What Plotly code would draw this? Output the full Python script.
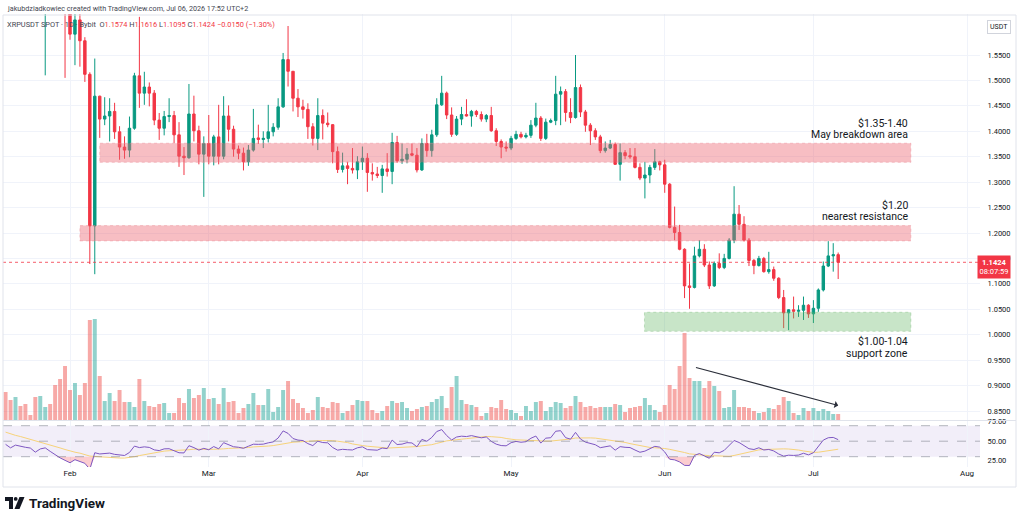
import numpy as np
import pandas as pd
import plotly.graph_objects as go

# ---------------- DATA (daily XRPUSDT, Bybit) ----------------
start_date = "2026-01-19"

# closes before the visible window (Dec 22 - Jan 18), only used to warm up the RSI
warmup_close = [1.88, 1.86, 1.90, 1.87, 1.85, 1.89, 1.92, 1.90, 1.88, 1.91, 1.95, 1.99, 2.04, 2.02,
                2.08, 2.13, 2.10, 2.06, 2.09, 2.12, 2.07, 2.10, 2.14, 2.11, 2.06, 2.08, 2.04, 2.02]

open_prices = [
    2.02, 1.97, 1.92, 1.95, 1.93, 1.92, 1.91, 1.85, 1.88, 1.89, 1.84, 1.78, 1.72,  # Jan 19-31
    1.660, 1.591, 1.619, 1.578, 1.512, 1.214, 1.469, 1.424, 1.430, 1.439, 1.399, 1.369, 1.363, 1.406,
    1.509, 1.475, 1.487, 1.475, 1.422, 1.406, 1.429, 1.431, 1.393, 1.351, 1.348, 1.434, 1.401, 1.355,  # Feb
    1.376, 1.351, 1.389, 1.351, 1.430, 1.404, 1.365, 1.357, 1.340, 1.363, 1.387, 1.384, 1.386, 1.399,
    1.408, 1.448, 1.541, 1.518, 1.465, 1.448, 1.443, 1.409, 1.386, 1.431, 1.416, 1.413, 1.360, 1.325,
    1.332, 1.327, 1.324,  # Mar
    1.340, 1.347, 1.319, 1.316, 1.313, 1.326, 1.321, 1.378, 1.342, 1.345, 1.356, 1.353, 1.324, 1.376,
    1.362, 1.393, 1.452, 1.475, 1.432, 1.394, 1.424, 1.433, 1.430, 1.439, 1.433, 1.424, 1.431, 1.401,
    1.380, 1.369,  # Apr
    1.367, 1.386, 1.394, 1.389, 1.392, 1.412, 1.426, 1.386, 1.418, 1.421, 1.473, 1.478, 1.437, 1.427,
    1.486, 1.438, 1.412, 1.401, 1.389, 1.362, 1.367, 1.374, 1.335, 1.358, 1.352, 1.350, 1.329, 1.308,
    1.314, 1.329, 1.340,  # May
    1.334, 1.296, 1.211, 1.201, 1.168, 1.096, 1.093, 1.155, 1.168, 1.137, 1.096, 1.140, 1.132, 1.150,
    1.186, 1.237, 1.217, 1.186, 1.146, 1.136, 1.150, 1.124, 1.128, 1.111, 1.073, 1.043, 1.049, 1.046,
    1.048, 1.058,  # Jun
    1.041, 1.052, 1.088, 1.135, 1.155, 1.1574,  # Jul 1-6
]
high_prices = [
    2.05, 1.99, 1.97, 1.97, 1.95, 1.93, 1.92, 1.90, 1.90, 1.90, 1.85, 1.80, 1.74,
    1.670, 1.640, 1.645, 1.585, 1.516, 1.543, 1.470, 1.467, 1.465, 1.456, 1.410, 1.390, 1.429, 1.515,
    1.625, 1.517, 1.496, 1.481, 1.436, 1.440, 1.465, 1.440, 1.418, 1.369, 1.493, 1.470, 1.411, 1.390,
    1.432, 1.393, 1.452, 1.469, 1.451, 1.411, 1.372, 1.368, 1.373, 1.444, 1.413, 1.400, 1.452, 1.416,
    1.465, 1.554, 1.607, 1.518, 1.483, 1.462, 1.455, 1.416, 1.465, 1.443, 1.437, 1.414, 1.370, 1.358,
    1.340, 1.367, 1.351,
    1.370, 1.357, 1.337, 1.330, 1.334, 1.357, 1.397, 1.391, 1.376, 1.367, 1.376, 1.367, 1.386, 1.395,
    1.403, 1.465, 1.509, 1.478, 1.447, 1.430, 1.448, 1.463, 1.442, 1.442, 1.439, 1.434, 1.448, 1.406,
    1.384, 1.380,
    1.391, 1.401, 1.399, 1.397, 1.422, 1.456, 1.430, 1.425, 1.425, 1.509, 1.488, 1.483, 1.465, 1.550,
    1.492, 1.442, 1.416, 1.406, 1.393, 1.380, 1.383, 1.378, 1.376, 1.363, 1.367, 1.367, 1.337, 1.340,
    1.334, 1.365, 1.342,
    1.344, 1.298, 1.252, 1.216, 1.170, 1.140, 1.173, 1.186, 1.178, 1.144, 1.144, 1.160, 1.159, 1.190,
    1.292, 1.255, 1.233, 1.190, 1.149, 1.155, 1.153, 1.163, 1.134, 1.113, 1.088, 1.050, 1.075, 1.058,
    1.075, 1.060,
    1.068, 1.091, 1.144, 1.184, 1.180, 1.1616,
]
low_prices = [
    1.96, 1.90, 1.90, 1.91, 1.90, 1.89, 1.83, 1.84, 1.51, 1.82, 1.76, 1.70, 1.505,
    1.580, 1.530, 1.527, 1.497, 1.139, 1.119, 1.387, 1.412, 1.380, 1.385, 1.344, 1.346, 1.349, 1.403,
    1.446, 1.452, 1.449, 1.412, 1.383, 1.392, 1.418, 1.377, 1.330, 1.314, 1.346, 1.380, 1.335, 1.271,
    1.335, 1.333, 1.335, 1.345, 1.380, 1.350, 1.345, 1.323, 1.332, 1.360, 1.375, 1.367, 1.378, 1.390,
    1.403, 1.446, 1.488, 1.439, 1.428, 1.425, 1.385, 1.372, 1.363, 1.384, 1.408, 1.337, 1.318, 1.319,
    1.296, 1.317, 1.306,
    1.324, 1.281, 1.303, 1.308, 1.279, 1.311, 1.296, 1.338, 1.336, 1.337, 1.351, 1.319, 1.322, 1.350,
    1.350, 1.389, 1.450, 1.424, 1.389, 1.391, 1.412, 1.429, 1.409, 1.428, 1.419, 1.418, 1.399, 1.371,
    1.347, 1.360,
    1.363, 1.383, 1.386, 1.386, 1.387, 1.408, 1.381, 1.383, 1.416, 1.412, 1.412, 1.419, 1.416, 1.425,
    1.428, 1.399, 1.373, 1.383, 1.357, 1.358, 1.365, 1.334, 1.303, 1.345, 1.346, 1.327, 1.304, 1.268,
    1.298, 1.324, 1.323,
    1.279, 1.209, 1.186, 1.166, 1.072, 1.051, 1.091, 1.152, 1.133, 1.090, 1.094, 1.129, 1.129, 1.148,
    1.180, 1.206, 1.183, 1.135, 1.119, 1.134, 1.122, 1.120, 1.106, 1.070, 1.013, 1.009, 1.032, 1.035,
    1.029, 1.033,
    1.023, 1.045, 1.085, 1.133, 1.124, 1.1095,
]
close_prices = [
    1.97, 1.92, 1.95, 1.93, 1.92, 1.91, 1.85, 1.88, 1.89, 1.84, 1.78, 1.72, 1.66,
    1.591, 1.619, 1.578, 1.512, 1.214, 1.469, 1.424, 1.430, 1.439, 1.399, 1.369, 1.363, 1.406, 1.509,
    1.475, 1.487, 1.475, 1.422, 1.406, 1.429, 1.431, 1.393, 1.351, 1.348, 1.434, 1.401, 1.355, 1.376,
    1.351, 1.389, 1.351, 1.430, 1.404, 1.365, 1.357, 1.340, 1.363, 1.386, 1.384, 1.386, 1.399, 1.408,
    1.448, 1.541, 1.518, 1.465, 1.448, 1.443, 1.409, 1.386, 1.431, 1.416, 1.413, 1.360, 1.325, 1.332,
    1.327, 1.324, 1.340,
    1.347, 1.319, 1.316, 1.313, 1.326, 1.321, 1.378, 1.342, 1.345, 1.355, 1.353, 1.324, 1.376, 1.362,
    1.393, 1.452, 1.475, 1.432, 1.394, 1.424, 1.433, 1.430, 1.439, 1.433, 1.424, 1.431, 1.401, 1.380,
    1.369, 1.367,
    1.386, 1.394, 1.389, 1.392, 1.412, 1.426, 1.386, 1.418, 1.421, 1.473, 1.478, 1.437, 1.427, 1.486,
    1.438, 1.412, 1.401, 1.389, 1.362, 1.367, 1.374, 1.335, 1.358, 1.352, 1.350, 1.329, 1.308, 1.314,
    1.329, 1.340, 1.334,
    1.296, 1.211, 1.201, 1.168, 1.096, 1.093, 1.155, 1.168, 1.137, 1.096, 1.140, 1.132, 1.150, 1.186,
    1.237, 1.217, 1.186, 1.146, 1.136, 1.150, 1.124, 1.128, 1.111, 1.073, 1.043, 1.049, 1.046, 1.048,
    1.058, 1.041,
    1.052, 1.088, 1.135, 1.155, 1.1574, 1.1424,
]
# volume (tens of millions XRP)
volume = [
    28, 20, 23, 14, 16, 5, 23, 24, 13, 16, 35, 41, 54,
    30, 37, 25, 37, 100, 101, 44, 19, 27, 19, 30, 18, 18, 13, 41, 19, 14, 13, 16, 17, 7, 7, 22, 17, 31, 22, 25, 32,
    21, 22, 16, 32, 18, 19, 7, 12, 16, 27, 15, 15, 31, 8, 13, 30, 39, 21, 17, 12, 7, 10, 23, 13, 12, 18, 17, 7, 9, 15, 20,
    19, 19, 10, 7, 9, 14, 19, 17, 18, 12, 9, 11, 13, 14, 18, 21, 24, 12, 33, 44, 20, 16, 15, 13, 4, 7, 13, 12, 20, 11,
    10, 7, 4, 14, 9, 18, 19, 9, 13, 18, 17, 12, 14, 24, 18, 13, 14, 12, 13, 13, 13, 16, 15, 8, 12, 13, 14, 22, 15, 10, 8,
    15, 35, 31, 54, 87, 42, 39, 39, 32, 39, 34, 29, 12, 13, 30, 13, 13, 12, 9, 7, 8, 12, 11, 15, 23, 19, 7, 5, 12, 9,
    12, 9, 11, 9, 6, 6,
]

month_ticks = ["2026-02-01", "2026-03-01", "2026-04-01", "2026-05-01", "2026-06-01", "2026-07-01", "2026-08-01"]
price_ticks = [0.85, 0.90, 0.95, 1.00, 1.05, 1.10, 1.15, 1.20, 1.25, 1.30, 1.35, 1.40, 1.45, 1.50, 1.55]
rsi_ticks = [25, 50, 75]
last_price = 1.1424

# drawn zones: (start, end, low, high, colour)
zones = [
    ("2026-02-07", "2026-07-20 16:00", 1.339, 1.3765, "red"),
    ("2026-02-03", "2026-07-20 16:00", 1.1845, 1.2145, "red"),
    ("2026-05-27 22:00", "2026-07-20 16:00", 1.0067, 1.0441, "green"),
]

# ---------------- DERIVED ----------------
n = len(close_prices)
assert all(len(a) == n for a in (open_prices, high_prices, low_prices, volume)), n
dates = pd.date_range(start_date, periods=n, freq="D")
o = np.array(open_prices); c = np.array(close_prices)
up = c >= o

# RSI 14 (Wilder) + 14 SMA, as TradingView does
all_close = np.array(warmup_close + close_prices)
d = np.diff(all_close)
g = np.clip(d, 0, None); l = np.clip(-d, 0, None)
L = 14
ag = np.full(len(d), np.nan); al = np.full(len(d), np.nan)
ag[L - 1] = g[:L].mean(); al[L - 1] = l[:L].mean()
for i in range(L, len(d)):
    ag[i] = (ag[i - 1] * (L - 1) + g[i]) / L
    al[i] = (al[i - 1] * (L - 1) + l[i]) / L
rsi_all = np.concatenate([[np.nan], 100 - 100 / (1 + ag / al)])
rsi_ma_all = pd.Series(rsi_all).rolling(L).mean().values
rsi = rsi_all[-n:]
rsi_ma = rsi_ma_all[-n:]

# ---------------- GEOMETRY ----------------
PL, PR, PT, PB = 3, 980, 14, 467
W, H = PR - PL, PB - PT
def px(x):
    return (x - PL) / W
def py(y):
    return (PB - y) / H

split = py(420)
px_per_day = 4.956
feb1 = pd.Timestamp("2026-02-01")
x0 = feb1 - pd.Timedelta(days=(70 - PL) / px_per_day)
x1 = feb1 + pd.Timedelta(days=(PR - 70) / px_per_day)
y_top = 1.55 + (55 - PT) / 508.6
y_bot = 0.85 - (420 - 411) / 508.6
rsi_top = 70 + (425.7 - 420) / 0.775
rsi_bot = 30 - (PB - 456.7) / 0.775

UP, DN = "#089981", "#F23645"
FONT = "Roboto"
TXT = "#131722"

fig = go.Figure()
fig.add_trace(go.Bar(
    x=dates, y=volume, yaxis="y2",
    marker=dict(color=np.where(up, "rgba(38,166,154,0.5)", "rgba(239,83,80,0.5)"), line_width=0),
    hoverinfo="skip", showlegend=False))
fig.add_trace(go.Candlestick(
    x=dates, open=open_prices, high=high_prices, low=low_prices, close=close_prices,
    increasing=dict(line=dict(color=UP, width=1), fillcolor=UP),
    decreasing=dict(line=dict(color=DN, width=1), fillcolor=DN),
    whiskerwidth=0, hoverinfo="skip", showlegend=False))
# RSI oversold fill
fig.add_trace(go.Scatter(x=dates, y=np.full(n, 30.0), yaxis="y3", mode="lines",
                         line=dict(width=0), hoverinfo="skip", showlegend=False))
fig.add_trace(go.Scatter(x=dates, y=np.minimum(rsi, 30), yaxis="y3", mode="lines",
                         line=dict(width=0), fill="tonexty", fillcolor="rgba(242,54,69,0.25)",
                         hoverinfo="skip", showlegend=False))
fig.add_trace(go.Scatter(x=dates, y=rsi_ma, yaxis="y3", mode="lines",
                         line=dict(color="#F7D37A", width=1), hoverinfo="skip", showlegend=False))
fig.add_trace(go.Scatter(x=dates, y=rsi, yaxis="y3", mode="lines",
                         line=dict(color="#7E57C2", width=1), hoverinfo="skip", showlegend=False))

shapes = []
for z0, z1, lo, hi, col in zones:
    fill = "rgba(236,100,112,0.42)" if col == "red" else "rgba(96,180,96,0.35)"
    edge = "rgba(235,140,150,0.45)" if col == "red" else "rgba(130,190,130,0.45)"
    shapes.append(dict(type="rect", xref="x", yref="y", x0=z0, x1=z1, y0=lo, y1=hi,
                       fillcolor=fill, line=dict(color=edge, width=1, dash="dot"), layer="above"))
shapes.append(dict(type="line", xref="paper", yref="y", x0=0, x1=1, y0=last_price, y1=last_price,
                   line=dict(color="rgba(242,54,69,0.8)", width=1, dash="dot")))
shapes.append(dict(type="rect", xref="paper", yref="y3", x0=0, x1=1, y0=30, y1=70,
                   fillcolor="rgba(126,87,194,0.10)", line_width=0, layer="below"))
for lv in (70, 50, 30):
    shapes.append(dict(type="line", xref="paper", yref="y3", x0=0, x1=1, y0=lv, y1=lv,
                       line=dict(color="rgba(120,123,134,0.55)", width=1, dash="dash")))
shapes.append(dict(type="line", xref="paper", yref="paper", x0=0, x1=px(1016), y0=py(420.5), y1=py(420.5),
                   line=dict(color="#e0e3eb", width=1)))
shapes.append(dict(type="rect", xref="paper", yref="paper", x0=px(3), x1=px(1016), y0=py(487), y1=py(15),
                   line=dict(color="#e0e3eb", width=1)))
# TradingView logo
def P(pts):
    return "M" + " L".join(f"{px(a):.5f},{py(b):.5f}" for a, b in pts) + " Z"
shapes.append(dict(type="path", xref="paper", yref="paper",
                   path=P([(5, 497), (13, 497), (13, 509), (9, 509), (9, 501), (5, 501)]),
                   fillcolor=TXT, line_width=0))
shapes.append(dict(type="circle", xref="paper", yref="paper", x0=px(13.8), x1=px(17.6), y0=py(500.8), y1=py(497),
                   fillcolor=TXT, line_width=0))
shapes.append(dict(type="path", xref="paper", yref="paper",
                   path=P([(19.5, 497), (24.5, 497), (19.5, 509), (14.5, 509)]),
                   fillcolor=TXT, line_width=0))

def lab(x, y, text, size, anchor="right", color=TXT, **kw):
    return dict(xref="paper", yref="paper", x=px(x), y=py(y), text=text, showarrow=False,
                xanchor=anchor, yanchor="middle", font=dict(family=FONT, size=size, color=color), **kw)

r = lambda s: f'<span style="color:{DN}">{s}</span>'
ann = [
    lab(5, 8.5, "jakubdziadkowiec created with TradingView.com, Jul 06, 2026 17:52 UTC+2", 7.2, "left", "#434651"),
    lab(5, 24.5, "XRPUSDT SPOT · 1D · Bybit  O" + r("1.1574") + " H" + r("1.1616") + " L" + r("1.1095")
        + " C" + r("1.1424") + " " + r("−0.0150 (−1.30%)"), 7.4, "left", "#434651"),
    lab(910, 123, "$1.35-1.40", 10.5),
    lab(910, 134, "May breakdown area", 10.5),
    lab(910, 205.5, "$1.20", 10.5),
    lab(910, 217, "nearest resistance", 10.5),
    lab(910, 342, "$1.00-1.04", 10.5),
    lab(910, 353, "support zone", 10.5),
    lab(998.5, 27, "USDT", 7, "center", TXT, bordercolor="#d1d4dc", borderwidth=1, borderpad=2, bgcolor="white"),
    dict(xref="paper", yref="y", x=px(977), y=last_price, yanchor="top", xanchor="left", yshift=7,
         text="<b>1.1424</b><br>08:07:59", showarrow=False, align="center", bgcolor=DN, borderpad=1.5,
         font=dict(family=FONT, size=7.5, color="white")),
    lab(27, 503, "<b>TradingView</b>", 13.5, "left", TXT),
    dict(xref="x", yref="y", axref="x", ayref="y",
         x="2026-07-06", y=0.861, ax="2026-06-07", ay=0.9365, text="", showarrow=True,
         arrowhead=1, arrowsize=1.1, arrowwidth=1.1, arrowcolor="#2a2e39"),
]

fig.update_layout(
    width=1024, height=513, autosize=False,
    margin=dict(l=PL, r=1024 - PR, t=PT, b=513 - PB),
    paper_bgcolor="white", plot_bgcolor="white",
    font=dict(family=FONT, color=TXT),
    showlegend=False, bargap=0.2, boxgap=0.3,
    xaxis=dict(type="date", range=[x0, x1], domain=[0, 1], anchor="y3",
               tickvals=month_ticks, tickformat="%b", ticks="", ticklen=0,
               tickfont=dict(size=8, color=TXT), showgrid=True, gridcolor="#f0f3fa",
               zeroline=False, showline=False, rangeslider=dict(visible=False)),
    yaxis=dict(domain=[split, 1], range=[y_bot, y_top], side="right", anchor="x",
               tickvals=price_ticks, ticktext=[f"{v:.4f}" for v in price_ticks],
               tickfont=dict(size=7.5, color=TXT), ticks="outside", ticklen=5, tickcolor="rgba(0,0,0,0)",
               showgrid=True, gridcolor="#f0f3fa", zeroline=False, showline=False),
    yaxis2=dict(overlaying="y", range=[0, 420 - PT], visible=False, showgrid=False),
    yaxis3=dict(domain=[0, split], range=[rsi_bot, rsi_top], side="right", anchor="x",
                tickvals=rsi_ticks, ticktext=[f"{v:.2f}" for v in rsi_ticks],
                tickfont=dict(size=7.5, color=TXT), ticks="outside", ticklen=5, tickcolor="rgba(0,0,0,0)",
                showgrid=False, zeroline=False, showline=False),
    shapes=shapes, annotations=ann,
)
fig.write_html("out.html")
